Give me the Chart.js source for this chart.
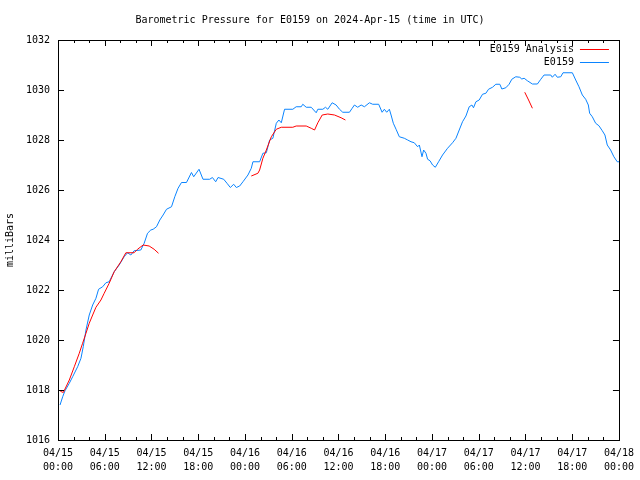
<!DOCTYPE html>
<html>
<head>
<meta charset="utf-8">
<script src="https://cdn.jsdelivr.net/npm/chart.js@4/dist/chart.umd.min.js"></script>
<style>
  html, body { margin: 0; padding: 0; background: #fff; }
  #wrap { width: 640px; height: 480px; }
</style>
</head>
<body>
<div id="wrap"><canvas id="chart"></canvas></div>
<script>
// hours since 2024-04-15 00:00 UTC
var obsHours = [0.26,0.6,0.9,1.45,1.88,2.52,2.95,3.24,3.59,4.01,4.45,4.87,5.21,5.73,6.15,6.57,7.21,7.85,8.49,8.93,
  9.35,9.77,10.63,11.06,11.49,11.91,12.21,12.64,13.07,13.49,13.93,14.57,14.99,15.41,15.85,16.49,17.13,17.42,18.1,18.61,
  19.47,19.82,20.24,20.54,21.27,21.69,22.12,22.55,22.89,23.32,23.74,24.38,24.81,25.02,25.88,26.3,26.74,27.16,27.58,28.02,
  28.35,28.66,29.08,30.14,30.57,31.22,31.42,31.86,32.5,33.14,33.35,33.99,34.33,34.63,35.19,35.7,36.13,36.55,37.41,37.76,
  38.05,38.47,38.91,39.33,39.97,40.39,41.16,41.6,41.89,42.19,42.53,42.75,43.04,43.39,43.81,44.45,44.88,45.31,45.73,46.16,
  46.38,46.72,46.93,47.23,47.44,47.75,48.08,48.43,48.85,49.36,50.0,50.64,51.08,51.5,51.92,52.36,52.78,53.13,53.33,53.64,
  54.06,54.49,54.92,55.26,55.77,56.2,56.71,56.97,57.48,57.9,58.25,58.76,59.27,59.53,59.83,60.25,60.89,61.53,61.97,62.39,
  63.25,63.45,63.8,64.09,64.53,64.82,66.02,66.45,66.87,67.3,67.73,68.07,68.24,68.58,69.01,69.43,69.86,70.2,70.5,70.93,
  71.35,71.78,72.0];
var obsPressure = [1017.4,1017.73,1017.97,1018.27,1018.53,1018.93,1019.27,1019.73,1020.4,1021.0,1021.4,1021.67,1022.03,1022.13,1022.29,1022.33,1022.73,1023.0,1023.33,1023.49,
  1023.4,1023.57,1023.6,1023.87,1024.27,1024.4,1024.43,1024.53,1024.8,1025.0,1025.23,1025.33,1025.73,1026.07,1026.3,1026.3,1026.7,1026.53,1026.83,1026.43,
  1026.43,1026.5,1026.33,1026.5,1026.43,1026.27,1026.1,1026.23,1026.1,1026.16,1026.33,1026.6,1026.87,1027.13,1027.13,1027.47,1027.49,1028.0,1028.07,1028.67,
  1028.8,1028.69,1029.23,1029.23,1029.33,1029.33,1029.43,1029.31,1029.31,1029.09,1029.23,1029.23,1029.31,1029.23,1029.49,1029.4,1029.23,1029.11,1029.11,1029.27,
  1029.4,1029.31,1029.4,1029.33,1029.49,1029.43,1029.43,1029.11,1029.23,1029.11,1029.23,1029.0,1028.67,1028.43,1028.13,1028.07,1028.0,1027.93,1027.89,1027.73,
  1027.8,1027.33,1027.6,1027.47,1027.23,1027.17,1027.0,1026.91,1027.13,1027.4,1027.67,1027.89,1028.07,1028.4,1028.73,1028.96,1029.33,1029.4,1029.29,1029.53,
  1029.6,1029.83,1029.87,1030.03,1030.11,1030.23,1030.23,1030.04,1030.09,1030.23,1030.43,1030.53,1030.51,1030.44,1030.47,1030.37,1030.24,1030.24,1030.43,1030.6,
  1030.6,1030.51,1030.63,1030.51,1030.53,1030.69,1030.69,1030.4,1030.13,1029.8,1029.63,1029.4,1029.07,1028.93,1028.67,1028.57,1028.37,1028.2,1027.8,1027.6,
  1027.33,1027.13,1027.13];

// analysis runs, null breaks the line between runs
var anaHours = [0.3,0.68,1.45,2.09,2.73,3.16,3.59,4.01,4.45,4.87,5.51,5.93,6.57,7.21,8.07,8.71,9.77,10.21,10.93,11.7,12.34,12.9,
  18.0,
  24.81,25.66,25.88,26.3,26.74,27.38,28.02,28.66,30.14,30.57,31.86,32.5,32.93,33.35,33.91,34.63,35.49,36.34,36.89,
  48.0,
  59.91,60.4,60.89];
var anaPressure = [1017.95,1017.9,1018.4,1018.93,1019.47,1019.87,1020.27,1020.67,1021.0,1021.31,1021.6,1021.87,1022.27,1022.73,1023.13,1023.49,1023.49,1023.63,1023.8,1023.76,1023.63,1023.47,
  null,
  1026.56,1026.67,1026.8,1027.27,1027.6,1028.13,1028.43,1028.51,1028.51,1028.56,1028.56,1028.47,1028.4,1028.69,1029.0,1029.04,1029.0,1028.89,1028.8,
  null,
  1029.91,1029.6,1029.27];

var seriesNames = ['E0159 Analysis', 'E0159'];
var seriesColors = ['#ff0000', '#0a84ff'];

function pts(xs, ys) {
  return xs.map(function (x, i) { return { x: x, y: ys[i] }; });
}

function tickLabel(h) {
  var day = 15 + Math.floor(h / 24);
  var hr = h % 24;
  return ['04/' + day, (hr < 10 ? '0' : '') + hr + ':00'];
}

var mono = { family: 'DejaVu Sans Mono', size: 10, weight: 'normal' };

// gnuplot style box with inward ticks on all four sides
var framePlugin = {
  id: 'frame',
  afterDraw: function (chart) {
    var ctx = chart.ctx, a = chart.chartArea;
    var xs = chart.scales.x, ys = chart.scales.y;
    ctx.save();
    ctx.strokeStyle = '#000';
    ctx.lineWidth = 1;
    ctx.beginPath();
    for (var h = 0; h <= 72; h += 2) {
      var px = Math.round(xs.getPixelForValue(h)) + 0.5;
      var len = (h % 6 === 0) ? 6 : 3;
      ctx.moveTo(px, a.bottom); ctx.lineTo(px, a.bottom - len);
      ctx.moveTo(px, a.top); ctx.lineTo(px, a.top + len);
    }
    for (var p = 1016; p <= 1032; p += 2) {
      var py = Math.round(ys.getPixelForValue(p)) + 0.5;
      ctx.moveTo(a.left, py); ctx.lineTo(a.left + 6, py);
      ctx.moveTo(a.right, py); ctx.lineTo(a.right - 6, py);
    }
    ctx.stroke();
    ctx.strokeRect(Math.round(a.left) + 0.5, Math.round(a.top) + 0.5,
      Math.round(a.right - a.left), Math.round(a.bottom - a.top));

    // key, top right inside the box
    ctx.font = '10px "DejaVu Sans Mono"';
    ctx.textAlign = 'right';
    ctx.textBaseline = 'middle';
    ctx.fillStyle = '#000';
    chart.data.datasets.forEach(function (ds, i) {
      var y = Math.round(a.top + 9 + i * 13) + 0.5;
      var x1 = a.right - 10, x0 = x1 - 29;
      ctx.fillText(ds.label, x0 - 6, y);
      ctx.strokeStyle = ds.borderColor;
      ctx.beginPath();
      ctx.moveTo(x0, y); ctx.lineTo(x1, y);
      ctx.stroke();
    });
    ctx.restore();
  }
};

new Chart(document.getElementById('chart'), {
  type: 'line',
  data: {
    datasets: [{
      label: seriesNames[0],
      data: pts(anaHours, anaPressure),
      borderColor: seriesColors[0],
      borderWidth: 1,
      pointRadius: 0,
      spanGaps: false
    }, {
      label: seriesNames[1],
      data: pts(obsHours, obsPressure),
      borderColor: seriesColors[1],
      borderWidth: 1,
      pointRadius: 0
    }]
  },
  options: {
    responsive: true,
    maintainAspectRatio: false,
    animation: false,
    layout: { padding: { left: 0, right: 20, top: 0, bottom: 0 } },
    plugins: {
      legend: { display: false },
      tooltip: { enabled: false },
      title: {
        display: true,
        text: 'Barometric Pressure for E0159 on 2024-Apr-15 (time in UTC)',
        color: '#000',
        font: mono,
        padding: { top: 14, bottom: 14 }
      }
    },
    scales: {
      x: {
        type: 'linear',
        min: 0,
        max: 72,
        grid: { display: false, drawTicks: false },
        border: { display: false },
        ticks: {
          stepSize: 6,
          autoSkip: false,
          maxRotation: 0,
          padding: 6,
          color: '#000',
          font: { family: 'DejaVu Sans Mono', size: 10, lineHeight: 1.4 },
          callback: function (v) { return tickLabel(v); }
        },
        afterFit: function (s) { s.height = 40; }
      },
      y: {
        min: 1016,
        max: 1032,
        grid: { display: false, drawTicks: false },
        border: { display: false },
        ticks: {
          stepSize: 2, padding: 8, color: '#000', font: mono,
          callback: function (v) { return String(v); }
        },
        title: { display: true, text: 'milliBars', color: '#000', font: mono, padding: { top: 4, bottom: 4 } },
        afterFit: function (s) { s.width = 58; }
      }
    }
  },
  plugins: [framePlugin]
});
</script>
</body>
</html>
